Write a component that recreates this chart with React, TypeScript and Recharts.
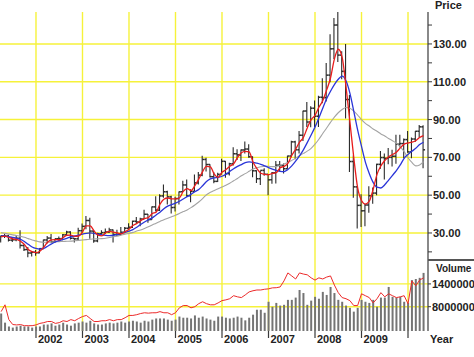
import React from 'react';
import { ComposedChart, Bar, Line, XAxis, YAxis, CartesianGrid } from 'recharts';

// monthly bars, Apr 2001 .. May 2010
const opens = [
  26.3, 28.5, 28.4, 26.2, 26.4, 27.2, 23.4, 21.2, 19.4,
  19.8, 19.5, 21.7, 26.3, 27.3, 25.3, 26.9, 27.0, 29.0, 30.5, 27.2, 26.9,
  31.2, 33.5, 36.6, 31.0, 25.8, 29.6, 30.2, 30.5, 31.6, 29.2, 29.1, 30.4,
  32.5, 33.0, 36.2, 35.8, 37.4, 39.9, 37.1, 43.8, 42.1, 49.6, 51.8, 49.1,
  43.5, 48.2, 51.75, 55.4, 49.7, 52.0, 56.5, 60.6, 68.9, 66.2, 59.8, 57.3,
  61.0, 67.9, 61.4, 66.6, 71.9, 71.3, 73.9, 74.4, 70.3, 62.9, 58.7, 63.1,
  61.05, 58.1, 61.8, 65.9, 65.7, 64.0, 70.7, 78.2, 74.0, 81.7, 94.5, 88.7,
  96.0, 91.75, 101.8, 101.6, 113.5, 127.4, 140.0, 124.1, 115.5, 100.6, 67.8, 54.4,
  44.6, 41.7, 44.8, 49.7, 51.1, 66.3, 69.9, 69.5, 70.0, 70.6, 77.0, 77.3,
  79.4, 72.9, 79.7, 83.8, 86.15,
];
const highs = [
  28.5, 29.4, 29.0, 27.6, 28.4, 31.5, 23.9, 22.6, 20.4,
  21.0, 21.9, 26.4, 28.4, 29.4, 27.0, 28.1, 29.5, 31.2, 30.9, 27.4, 32.7,
  35.0, 39.0, 38.0, 31.2, 30.1, 31.5, 32.3, 32.8, 31.9, 31.7, 33.2, 33.2,
  35.2, 36.5, 38.4, 38.0, 42.3, 40.0, 44.0, 49.4, 50.5, 55.7, 52.3, 49.7,
  49.2, 52.0, 57.6, 58.3, 53.1, 60.95, 62.3, 70.85, 69.8, 66.4, 62.1, 61.8,
  69.2, 68.1, 67.2, 75.35, 74.3, 74.1, 78.4, 77.0, 70.5, 63.2, 62.9, 64.3,
  61.1, 62.3, 68.1, 68.1, 66.7, 70.8, 78.8, 78.8, 83.9, 94.7, 99.3, 97.0,
  100.1, 102.6, 111.8, 119.9, 135.1, 143.7, 147.3, 126.2, 130.0, 103.0, 71.0, 54.6,
  50.5, 45.4, 54.7, 54.1, 66.6, 73.4, 72.0, 75.0, 74.0, 82.0, 82.0, 80.0,
  83.95, 80.5, 83.9, 87.15, 87.0,
];
const lows = [
  24.9, 27.4, 25.5, 25.2, 25.6, 21.8, 20.5, 17.1, 17.5,
  17.9, 19.3, 21.4, 24.4, 24.9, 24.7, 25.9, 26.2, 28.7, 26.6, 25.0, 26.1,
  30.0, 32.0, 26.9, 24.8, 25.1, 29.2, 29.6, 30.0, 25.0, 28.2, 28.8, 29.9,
  32.2, 32.6, 34.7, 33.6, 37.1, 35.4, 37.0, 41.3, 41.6, 48.6, 45.0, 40.3,
  41.3, 45.0, 51.7, 49.2, 46.2, 51.9, 55.6, 60.0, 62.5, 59.3, 56.25, 56.9,
  61.0, 59.2, 60.4, 65.7, 68.6, 68.1, 72.0, 69.8, 59.5, 56.5, 55.4, 60.3,
  49.9, 56.1, 56.2, 62.6, 61.4, 64.0, 70.0, 69.0, 72.0, 78.6, 86.0, 85.9,
  86.1, 86.1, 98.6, 99.6, 109.7, 122.0, 120.4, 111.3, 90.5, 62.3, 48.6, 32.4,
  33.2, 33.55, 40.7, 45.5, 50.0, 64.0, 58.3, 66.3, 65.1, 66.6, 75.2, 69.5,
  72.4, 69.5, 78.3, 80.5, 64.2,
];
const closes = [
  28.5, 28.4, 26.2, 26.4, 27.2, 23.4, 21.2, 19.4, 19.8,
  19.5, 21.7, 26.3, 27.3, 25.3, 26.9, 27.0, 29.0, 30.5, 27.2, 26.9, 31.2,
  33.5, 36.6, 31.0, 25.8, 29.6, 30.2, 30.5, 31.6, 29.2, 29.1, 30.4, 32.5,
  33.05, 36.2, 35.8, 37.4, 39.9, 37.05, 43.8, 42.1, 49.6, 51.8, 49.1, 43.45,
  48.2, 51.75, 55.4, 49.7, 52.0, 56.5, 60.6, 68.9, 66.2, 59.8, 57.3, 61.0,
  67.9, 61.4, 66.6, 71.9, 71.3, 73.9, 74.4, 70.3, 62.9, 58.7, 63.1, 61.05,
  58.1, 61.8, 65.9, 65.7, 64.0, 70.7, 78.2, 74.0, 81.7, 94.5, 88.7, 96.0,
  91.75, 101.8, 101.6, 113.5, 127.4, 140.0, 124.1, 115.5, 100.6, 67.8, 54.4, 44.6,
  41.7, 44.8, 49.7, 51.1, 66.3, 69.9, 69.5, 70.0, 70.6, 77.0, 77.3, 79.4,
  72.9, 79.7, 83.8, 86.15, 74.0,
];

// moving averages
const fastMA = [
  28.0, 28.3, 27.6, 26.9, 26.6, 25.6, 23.9, 21.3, 20.1,
  19.6, 20.3, 22.5, 25.1, 26.3, 26.5, 26.4, 27.6, 28.8, 28.9, 28.2, 28.4,
  30.5, 33.8, 33.7, 31.1, 28.8, 28.5, 30.1, 30.8, 30.4, 30.0, 29.6, 30.7,
  32.0, 33.9, 35.0, 36.5, 37.7, 38.1, 40.3, 41.0, 45.2, 47.8, 48.5, 48.0,
  48.0, 48.5, 52.0, 53.5, 52.4, 55.0, 58.5, 62.5, 65.2, 65.0, 61.1, 59.4,
  62.1, 63.4, 65.3, 66.6, 69.9, 72.4, 73.2, 72.9, 67.5, 64.0, 61.6, 61.0,
  60.8, 61.5, 61.9, 64.5, 65.2, 66.8, 71.0, 74.3, 78.0, 80.5, 85.5, 90.0,
  92.2, 96.5, 100.0, 105.6, 112.0, 122.0, 127.2, 123.0, 107.5, 89.0, 70.0, 54.0,
  47.2, 45.3, 46.8, 53.0, 61.0, 65.5, 68.3, 70.3, 71.5, 72.7, 75.0, 77.0,
  77.6, 78.0, 78.8, 80.5, 81.5,
];
const midMA = [
  28.6, 28.3, 28.0, 27.6, 27.2, 26.6, 25.5, 24.0, 22.6,
  21.8, 21.5, 21.9, 23.0, 24.2, 25.3, 26.0, 26.6, 27.2, 27.9, 28.4, 28.8,
  29.4, 29.8, 30.0, 29.8, 29.4, 29.0, 28.7, 28.6, 28.8, 29.3, 29.8, 30.3,
  31.0, 31.8, 33.0, 34.5, 35.8, 37.0, 38.0, 39.5, 41.0, 42.8, 44.2, 45.0,
  45.8, 46.8, 48.0, 49.2, 50.4, 51.8, 53.0, 55.0, 57.2, 58.6, 59.2, 59.4,
  60.0, 61.0, 62.5, 64.0, 65.2, 66.2, 67.2, 67.6, 67.4, 66.9, 66.3, 65.5,
  64.6, 63.8, 63.1, 62.6, 62.5, 63.6, 65.5, 68.0, 70.8, 74.0, 77.8, 81.8,
  86.0, 90.8, 96.0, 101.0, 105.0, 108.5, 111.3, 113.0, 110.5, 104.0, 94.5, 84.5,
  75.8, 67.5, 61.5, 56.8, 54.2, 53.8, 55.5, 58.0, 60.5, 63.0, 66.0, 69.5,
  71.5, 73.2, 74.8, 76.8, 78.0,
];
const slowMA = [
  30.2, 29.8, 29.4, 29.0, 28.7, 28.3, 27.7, 27.0, 26.3,
  25.8, 25.3, 25.1, 25.1, 25.2, 25.3, 25.4, 25.5, 25.6, 25.7, 25.9, 26.1,
  26.3, 26.5, 26.7, 26.8, 26.9, 27.0, 27.2, 27.6, 28.0, 28.4, 28.9, 29.4,
  29.8, 30.3, 31.0, 31.6, 32.4, 33.3, 34.2, 35.2, 36.1, 37.0, 37.8, 38.6,
  39.4, 40.3, 41.3, 42.2, 43.4, 44.8, 46.4, 48.2, 50.2, 51.5, 52.5, 53.4,
  54.3, 55.2, 56.3, 57.6, 58.8, 60.3, 61.4, 62.6, 63.8, 64.5, 65.0, 65.3,
  65.3, 65.1, 65.2, 65.8, 66.5, 67.3, 68.4, 69.6, 70.9, 72.1, 73.3, 74.8,
  77.0, 79.6, 82.6, 85.5, 88.5, 91.3, 93.6, 95.3, 96.4, 96.0, 94.5, 92.4,
  90.0, 88.0, 86.6, 85.0, 83.8, 82.4, 81.3, 80.0, 78.8, 77.5, 75.5, 73.0,
  69.8, 67.3, 65.5, 66.0, 67.8,
];

const volumes = [
  6200000, 3800000, 2800000, 2500000, 2800000, 3000000, 2800000, 2800000, 2500000,
  2800000, 2800000, 3300000, 3300000, 3600000, 3000000, 3300000, 3800000, 3300000, 3000000, 3600000, 3800000,
  4100000, 3800000, 4300000, 3600000, 3300000, 3300000, 3600000, 3800000, 3600000, 3800000, 4100000, 3800000,
  4100000, 4300000, 4100000, 3800000, 4300000, 4100000, 4600000, 4900000, 4900000, 4900000, 4600000, 4300000,
  4600000, 5400000, 5100000, 5100000, 4900000, 5700000, 5100000, 5400000, 4900000, 4600000, 4300000, 5400000,
  5400000, 5100000, 4900000, 5100000, 5400000, 5100000, 4400000, 5100000, 5900000, 7200000, 7200000, 6400000,
  9300000, 8000000, 9000000, 8300000, 8500000, 9800000, 9800000, 10400000, 12400000, 11600000, 8500000, 9600000,
  10600000, 10100000, 11900000, 11100000, 13200000, 11600000, 9800000, 9300000, 8300000, 7700000, 6700000, 7700000,
  9800000, 9300000, 9000000, 9800000, 8000000, 10400000, 10400000, 13200000, 10600000, 10400000, 10600000, 9300000,
  9000000, 15000000, 15300000, 15600000, 16900000,
];
const volumeTrend = [
  6700000, 8500000, 4600000, 3300000, 3200000, 3300000, 3000000, 3000000, 3000000,
  3200000, 3600000, 3800000, 4100000, 4100000, 3600000, 3800000, 4300000, 4100000, 4600000, 4300000, 4900000,
  5400000, 5700000, 4900000, 4100000, 4100000, 4300000, 4300000, 4600000, 4300000, 4600000, 4600000, 5100000,
  5700000, 5700000, 5900000, 6200000, 6400000, 6300000, 6400000, 6400000, 6700000, 6400000, 6400000, 5900000,
  6400000, 7700000, 8300000, 8300000, 7700000, 8000000, 8800000, 9300000, 8800000, 8500000, 8500000, 9000000,
  9600000, 9800000, 10100000, 10900000, 10600000, 10400000, 11100000, 11900000, 12200000, 12400000, 12400000, 12600000,
  12700000, 12960000, 13000000, 13200000, 14800000, 16900000, 16100000, 15300000, 16900000, 16600000, 16400000, 15600000,
  15000000, 15600000, 15300000, 15800000, 16100000, 13700000, 11700000, 10400000, 10100000, 9600000, 8300000, 8300000,
  11400000, 10900000, 10400000, 9000000, 10100000, 11700000, 10600000, 11400000, 10900000, 10400000, 10600000, 10900000,
  8800000, 14800000, 13500000, 15000000, 15600000,
];

const yearTicks = [2002, 2003, 2004, 2005, 2006, 2007, 2008, 2009, 2010];
const priceTicks = [20, 30, 40, 50, 60, 70, 80, 90, 100, 110, 120, 130, 140];
const priceGrid = [30, 50, 70, 90, 110, 130];
const volumeTicks = [8000000, 14000000];

// first bar is April 2001
const times = closes.map((_, i) => 2001 + (3 + i) / 12);

const priceRows = closes.map((c, i) => ({
  t: times[i],
  open: opens[i],
  high: highs[i],
  low: lows[i],
  close: c,
  fast: fastMA[i],
  mid: midMA[i],
  slow: slowMA[i],
}));
const volumeRows = volumes.map((v, i) => ({ t: times[i], vol: v, trend: volumeTrend[i] }));

const X_DOMAIN: [number, number] = [2001.226, 2010.43];
const FONT = '"Liberation Sans", Arial, sans-serif';
const GRID = '#f6f23a';
const AXIS = '#3a3a3a';
const BAR = '#2b2b2b';

const OhlcBar = (props: any) => {
  const { x, y, width, height, payload } = props;
  if (x == null || y == null || !payload) return null;
  const top = Math.min(y, y + height);
  const bot = Math.max(y, y + height);
  const span = payload.high - payload.low || 1;
  const at = (v: number) => top + ((payload.high - v) / span) * (bot - top);
  const cx = x + width / 2;
  return (
    <g>
      <line x1={cx} x2={cx} y1={top} y2={bot} stroke={BAR} strokeWidth={1.1} />
      <line x1={cx - 1.8} x2={cx} y1={at(payload.open)} y2={at(payload.open)} stroke={BAR} strokeWidth={1.5} />
      <line x1={cx} x2={cx + 2} y1={at(payload.close)} y2={at(payload.close)} stroke={BAR} strokeWidth={1.5} />
    </g>
  );
};

const PriceTick = (props: any) => {
  const { x, y, payload } = props;
  if (!priceGrid.includes(payload.value)) return null;
  return (
    <text x={x} y={y} dy={4} fontSize={11} fontWeight="bold" fontFamily={FONT} fill="#222">
      {payload.value.toFixed(2)}
    </text>
  );
};

const VolumeTick = (props: any) => {
  const { x, y, payload } = props;
  return (
    <text x={x} y={y} dy={4} fontSize={11} fontWeight="bold" fontFamily={FONT} fill="#222">
      {String(payload.value)}
    </text>
  );
};

const YearTick = (props: any) => {
  const { x, y, payload } = props;
  return (
    <g>
      <line x1={x} x2={x} y1={y} y2={y + 7} stroke={AXIS} strokeWidth={1.2} />
      {payload.value < 2010 && (
        <text x={x + 2} y={y + 12} fontSize={11} fontWeight="bold" fontFamily={FONT} fill="#222">
          {payload.value}
        </text>
      )}
    </g>
  );
};

const label: React.CSSProperties = {
  position: 'absolute',
  fontFamily: FONT,
  fontSize: 11,
  fontWeight: 'bold',
  color: '#222',
  lineHeight: '11px',
  whiteSpace: 'nowrap',
};

export default function App() {
  return (
    <div style={{ position: 'fixed', left: 0, top: 0, width: 474, height: 357, background: '#fff', overflow: 'hidden' }}>
      <div style={{ position: 'absolute', left: 0, top: 0 }}>
        <ComposedChart width={474} height={260} data={priceRows} margin={{ top: 12, right: 0, bottom: 0, left: 0 }}>
          <CartesianGrid stroke={GRID} strokeWidth={1.4} horizontalValues={priceGrid} verticalValues={yearTicks} />
          <XAxis dataKey="t" type="number" domain={X_DOMAIN} allowDataOverflow hide />
          <YAxis
            orientation="right"
            width={46}
            type="number"
            domain={[15.7, 146.9]}
            allowDataOverflow
            ticks={priceTicks}
            interval={0}
            tick={<PriceTick />}
            tickSize={4}
            tickMargin={1}
            tickLine={{ stroke: AXIS }}
            axisLine={{ stroke: AXIS, strokeWidth: 1.2 }}
          />
          <Bar dataKey={(d: any) => [d.low, d.high]} barSize={3} shape={<OhlcBar />} isAnimationActive={false} />
          <Line type="monotone" dataKey="slow" stroke="#a3a3a3" strokeWidth={1.1} dot={false} isAnimationActive={false} />
          <Line type="monotone" dataKey="mid" stroke="#2a35d8" strokeWidth={1.3} dot={false} isAnimationActive={false} />
          <Line type="monotone" dataKey="fast" stroke="#e81c1c" strokeWidth={1.3} dot={false} isAnimationActive={false} />
        </ComposedChart>
      </div>
      <div style={{ position: 'absolute', left: 0, top: 260 }}>
        <ComposedChart width={474} height={97} data={volumeRows} margin={{ top: 0, right: 0, bottom: 0, left: 0 }}>
          <CartesianGrid stroke={GRID} strokeWidth={1.4} horizontalValues={volumeTicks} verticalValues={yearTicks} />
          <XAxis
            dataKey="t"
            type="number"
            domain={X_DOMAIN}
            allowDataOverflow
            ticks={yearTicks}
            interval={0}
            height={26}
            tickSize={0}
            tickMargin={0}
            tickLine={false}
            axisLine={false}
            tick={<YearTick />}
          />
          <YAxis
            orientation="right"
            width={46}
            type="number"
            domain={[1600000, 20300000]}
            allowDataOverflow
            ticks={volumeTicks}
            interval={0}
            tick={<VolumeTick />}
            tickSize={3}
            tickMargin={1}
            tickLine={{ stroke: AXIS }}
            axisLine={{ stroke: AXIS, strokeWidth: 1.2 }}
          />
          <Bar dataKey="vol" barSize={2} fill="#747474" isAnimationActive={false} />
          <Line type="linear" dataKey="trend" stroke="#ec2a2a" strokeWidth={1} dot={false} isAnimationActive={false} />
        </ComposedChart>
      </div>
      <div style={{ position: 'absolute', left: 428, top: 259, width: 46, height: 2, background: '#555' }} />
      <div style={{ ...label, left: 435, top: 0 }}>Price</div>
      <div style={{ ...label, left: 436, top: 263, fontSize: 10 }}>Volume</div>
      <div style={{ ...label, left: 430, top: 334 }}>Year</div>
    </div>
  );
}
